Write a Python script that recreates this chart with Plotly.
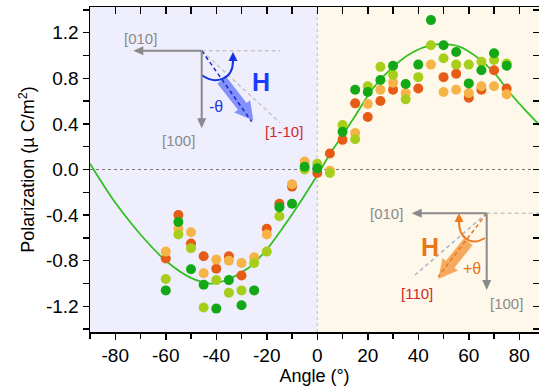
import math
import plotly.graph_objects as go

# ---------------- data ----------------
angle_R = [-60, -55, -50, -45, -40, -35, -30, -20, -15, -10, 0, 5, 10, 15, 20, 25, 30, 40, 50, 55, 60, 65, 70, 75]
pol_R   = [-0.78, -0.40, -0.65, -0.76, -0.87, -0.76, -0.93, -0.52, -0.30, -0.15, -0.03, 0.14, 0.26, 0.58, 0.46, 0.60, 0.70, 0.71, 0.81, 0.84, 0.63, 0.70, 0.87, 0.71]

angle_O = [-60, -55, -50, -45, -40, -35, -30, -25, -20, -10, -5, 5, 15, 20, 25, 30, 35, 45, 50, 55, 60, 65, 70, 75]
pol_O   = [-0.72, -0.52, -0.55, -0.91, -0.79, -0.80, -0.82, -0.77, -0.57, -0.13, 0.07, -0.01, 0.32, 0.575, 0.70, 0.76, 0.67, 0.92, 0.68, 0.70, 0.67, 0.73, 0.73, 0.66]

angle_Y = [-60, -55, -50, -45, -40, -35, -30, -25, -20, -15, -5, 0, 5, 10, 15, 20, 25, 30, 35, 40, 45, 50, 55, 60, 65, 70, 75]
pol_Y   = [-0.96, -0.57, -0.69, -1.21, -0.97, -1.08, -1.06, -0.82, -0.72, -0.41, 0.00, 0.05, -0.03, 0.39, 0.265, 0.73, 0.90, 0.83, 0.615, 0.81, 1.09, 0.975, 0.92, 0.92, 0.945, 0.96, 0.93]

angle_G = [-60, -55, -50, -45, -40, -35, -30, -25, -15, -10, -5, 0, 10, 15, 20, 25, 30, 35, 40, 45, 50, 55, 60, 65, 70, 75]
pol_G   = [-1.06, -0.46, -0.875, -1.01, -1.22, -0.97, -1.19, -1.06, -0.33, -0.30, 0.025, 0.01, 0.33, 0.70, 0.68, 0.785, 0.91, 0.75, 0.92, 1.31, 1.09, 1.03, 0.755, 0.87, 1.02, 0.91]

fit_angle = [-90, -86, -80, -70, -60, -50, -42, -35, -27, -20, -13, -6, 0, 6, 10, 15, 22, 30, 38, 45, 50, 56, 63, 70, 76, 82, 88]
fit_pol   = [0.05, -0.09, -0.29, -0.57, -0.80, -0.95, -1.00, -0.96, -0.86, -0.70, -0.49, -0.26, -0.05, 0.17, 0.30, 0.47, 0.71, 0.90, 1.03, 1.09, 1.10, 1.08, 0.99, 0.85, 0.68, 0.53, 0.39]

x_tick_vals = [-80, -60, -40, -20, 0, 20, 40, 60, 80]
x_tick_text = ["-80", "-60", "-40", "-20", "0", "20", "40", "60", "80"]
x_minor_vals = [-90, -70, -50, -30, -10, 10, 30, 50, 70, 90]
y_tick_vals = [-1.2, -0.8, -0.4, 0.0, 0.4, 0.8, 1.2]
y_tick_text = ["-1.2", "-0.8", "-0.4", "0.0", "0.4", "0.8", "1.2"]
y_minor_vals = [-1.4, -1.0, -0.6, -0.2, 0.2, 0.6, 1.0, 1.4]

# ---------------- geometry ----------------
W, H = 539, 392
ML, MR, MT, MB = 90, 0, 7, 60
XR = [-90, 87.8]
YR = [-1.425, 1.425]
PW = W - ML - MR
PH = H - MT - MB


def P(px, py):
    """pixel position in the picture -> data coordinates (for decorations)"""
    x = XR[0] + (px - ML) / PW * (XR[1] - XR[0])
    y = YR[1] - (py - MT) / PH * (YR[1] - YR[0])
    return x, y


FONT = "Liberation Sans, Arial, sans-serif"
C_G = "rgb(18,168,22)"
C_Y = "rgb(168,206,28)"
C_O = "rgb(246,180,72)"
C_R = "rgb(230,92,22)"
GRAY = "rgb(138,138,138)"

fig = go.Figure()

fig.add_trace(go.Scatter(x=fit_angle, y=fit_pol, mode="lines",
                         line=dict(color="rgb(52,192,36)", width=1.8, shape="spline", smoothing=1.0),
                         hoverinfo="skip", showlegend=False))
for ax_, ay_, col in [(angle_R, pol_R, C_R), (angle_O, pol_O, C_O), (angle_Y, pol_Y, C_Y), (angle_G, pol_G, C_G)]:
    fig.add_trace(go.Scatter(x=ax_, y=ay_, mode="markers", hoverinfo="skip",
                             marker=dict(color=col, size=10, line=dict(width=0)),
                             showlegend=False))

# helper trace for the mirrored axes
fig.add_trace(go.Scatter(x=[None], y=[None], xaxis="x2", yaxis="y2", showlegend=False, hoverinfo="skip"))

shapes = []
shapes.append(dict(type="rect", xref="x", yref="paper", x0=XR[0], x1=0, y0=0, y1=1,
                   fillcolor="rgb(238,238,252)", line=dict(width=0), layer="below"))
shapes.append(dict(type="rect", xref="x", yref="paper", x0=0, x1=XR[1], y0=0, y1=1,
                   fillcolor="rgb(254,248,234)", line=dict(width=0), layer="below"))
shapes.append(dict(type="line", xref="x", yref="paper", x0=0, x1=0, y0=0, y1=1,
                   line=dict(color="rgb(185,185,185)", width=1, dash="dot"), layer="below"))
shapes.append(dict(type="line", xref="paper", yref="y", x0=0, x1=1, y0=0, y1=0,
                   line=dict(color="rgb(120,120,120)", width=1, dash="3px,3px"), layer="below"))


def seg(p0, p1, color, width=1.5, dash="solid"):
    a = P(*p0)
    b = P(*p1)
    shapes.append(dict(type="line", xref="x", yref="y", x0=a[0], y0=a[1], x1=b[0], y1=b[1],
                       line=dict(color=color, width=width, dash=dash)))


def poly(points, fill, opacity=1.0):
    pts = [P(*p) for p in points]
    path = "M " + " L ".join(f"{x:.4f},{y:.4f}" for x, y in pts) + " Z"
    shapes.append(dict(type="path", xref="x", yref="y", path=path, fillcolor=fill,
                       line=dict(width=0), opacity=opacity))


def curve(p0, c1, c2, p1, color, width=2):
    a, b, c, d = P(*p0), P(*c1), P(*c2), P(*p1)
    path = f"M {a[0]:.4f},{a[1]:.4f} C {b[0]:.4f},{b[1]:.4f} {c[0]:.4f},{c[1]:.4f} {d[0]:.4f},{d[1]:.4f}"
    shapes.append(dict(type="path", xref="x", yref="y", path=path, line=dict(color=color, width=width)))


def fat_arrow(tail, tip, w, hw, hl, fill, opacity):
    dx, dy = tip[0] - tail[0], tip[1] - tail[1]
    L = math.hypot(dx, dy)
    ux, uy = dx / L, dy / L
    nx, ny = -uy, ux
    bx, by = tip[0] - ux * hl, tip[1] - uy * hl
    pts = [(tail[0] + nx * w, tail[1] + ny * w), (bx + nx * w, by + ny * w), (bx + nx * hw, by + ny * hw),
           tip, (bx - nx * hw, by - ny * hw), (bx - nx * w, by - ny * w), (tail[0] - nx * w, tail[1] - ny * w)]
    poly(pts, fill, opacity)


def line_arrow(tail, tip, color=GRAY, width=2, hl=10, hw=4.5):
    dx, dy = tip[0] - tail[0], tip[1] - tail[1]
    L = math.hypot(dx, dy)
    ux, uy = dx / L, dy / L
    nx, ny = -uy, ux
    bx, by = tip[0] - ux * hl, tip[1] - uy * hl
    seg(tail, (bx + ux * 2, by + uy * 2), color, width)
    poly([tip, (bx + nx * hw, by + ny * hw), (bx - nx * hw, by - ny * hw)], color)


annotations = []


def label(p, text, color, size=14, bold=False):
    x, y = P(*p)
    annotations.append(dict(x=x, y=y, xref="x", yref="y", text=(f"<b>{text}</b>" if bold else text),
                            showarrow=False, font=dict(family=FONT, size=size, color=color)))


# ---- upper-left inset ----
V1 = (201.7, 50.7)
seg(V1, (280, 50.7), "rgb(200,200,200)", 1.5, "4px,3px")
seg(V1, (280, 122.7), "rgb(200,200,200)", 1.5, "4px,3px")
fat_arrow((221.7, 80), (253.3, 120.5), 5.5, 10, 18, "rgb(95,115,250)", 0.75)
seg(V1, (251.7, 121.7), "rgb(20,40,200)", 1.5, "4px,3px")
curve((201.7, 75), (215, 85), (233, 80), (233, 61), "rgb(20,50,230)", 2)
poly([(233, 52), (228.5, 61), (237.5, 61)], "rgb(20,50,230)")
line_arrow(V1, (133.3, 50.7))
line_arrow(V1, (201.7, 128.3))
label((140, 38), "[010]", GRAY, 15)
label((178, 140), "[100]", GRAY, 15)
label((284, 131), "[1-10]", "rgb(212,40,40)", 15)
label((261, 82), "H", "rgb(26,60,255)", 25, True)
label((216, 106), "-θ", "rgb(30,60,230)", 16)

# ---- lower-right inset ----
V2 = (486.7, 213.3)
seg(V2, (540, 213.3), "rgb(200,200,200)", 1.5, "4px,3px")
seg(V2, (415, 275), "rgb(170,180,200)", 1.5, "4px,3px")
fat_arrow((468.3, 241.7), (438.3, 279), 5.5, 10, 19, "rgb(242,150,60)", 0.8)
seg(V2, (438.3, 276.7), "rgb(235,120,30)", 1.5, "4px,3px")
curve((485, 238), (470, 247), (459, 237), (459, 222), "rgb(238,120,30)", 2)
poly([(459, 213), (454.5, 222), (463.5, 222)], "rgb(238,120,30)")
line_arrow(V2, (411.7, 213.3))
line_arrow(V2, (486.7, 290))
label((386, 213), "[010]", GRAY, 15)
label((506, 303), "[100]", GRAY, 15)
label((417, 293), "[110]", "rgb(212,40,40)", 15)
label((430, 247), "H", "rgb(232,118,26)", 25, True)
label((472, 268), "+θ", "rgb(232,118,26)", 16)

axis_common = dict(showgrid=False, zeroline=False, linecolor="black", linewidth=1.5,
                   tickcolor="black", tickwidth=1.5, tickfont=dict(family=FONT, size=19, color="black"))

fig.update_layout(
    width=W, height=H,
    margin=dict(l=ML, r=MR, t=MT, b=MB, pad=0),
    paper_bgcolor="white", plot_bgcolor="white",
    font=dict(family=FONT, color="black"),
    showlegend=False,
    hovermode=False,
    xaxis=dict(range=XR, showline=True, ticks="outside", ticklen=6, tickvals=x_tick_vals,
               ticktext=x_tick_text,
               minor=dict(tickvals=x_minor_vals, ticks="outside", ticklen=5, tickwidth=1.5, tickcolor="black"),
               title=dict(text="Angle (°)", font=dict(family=FONT, size=18), standoff=2),
               **axis_common),
    xaxis2=dict(range=XR, overlaying="x", side="top", anchor="y", showline=True, ticks="inside", ticklen=7,
                tickvals=x_tick_vals + x_minor_vals, showticklabels=False, **axis_common),
    yaxis=dict(range=YR, showline=True, ticks="outside", ticklen=6, tickvals=y_tick_vals, ticktext=y_tick_text,
               minor=dict(tickvals=y_minor_vals, ticks="outside", ticklen=6, tickwidth=1.5, tickcolor="black"),
               title=dict(text="Polarization (µ C/m<sup>2</sup>)", font=dict(family=FONT, size=18), standoff=6),
               **axis_common),
    yaxis2=dict(range=YR, overlaying="y", side="right", anchor="x", showline=False, ticks="inside", ticklen=6,
                tickvals=y_tick_vals + y_minor_vals, showticklabels=False, **axis_common),
    shapes=shapes,
    annotations=annotations,
)

fig.write_html("out.html", config={"displayModeBar": False, "staticPlot": True},
               post_script="document.body.style.margin='0';document.body.style.overflow='hidden';")
